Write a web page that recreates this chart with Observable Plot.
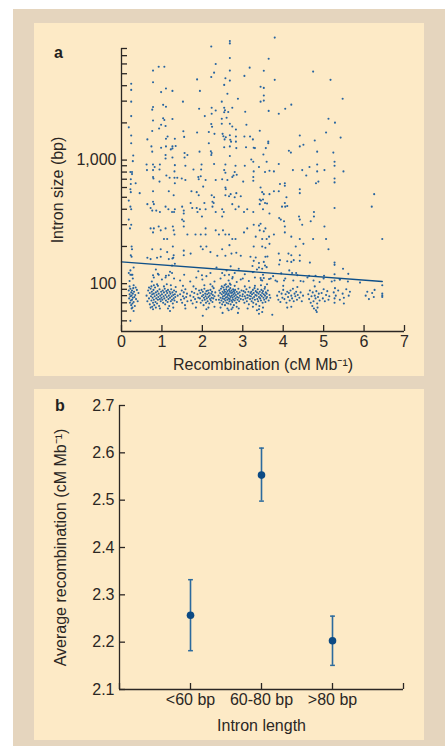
<!DOCTYPE html>
<html><head><meta charset="utf-8">
<script src="https://cdn.jsdelivr.net/npm/d3@7"></script>
<script src="https://cdn.jsdelivr.net/npm/@observablehq/plot@0.6"></script>
<style>
body{margin:0;background:#fff;font-family:"Liberation Sans",Arial,Helvetica,sans-serif;}
#page{position:relative;width:445px;height:746px;overflow:hidden;background:#fff;}
#outer{position:absolute;left:13px;top:9px;width:432px;height:737px;background:#e5d5be;}
.panel{position:absolute;left:34px;width:390px;background:#fdeac6;}
#pa{top:23px;height:353px}
#pb{top:389px;height:351px}
.panel svg{position:absolute;left:0;top:0;}
.tag{position:absolute;font-weight:bold;font-size:16px;line-height:1;color:#231f20;z-index:2}
</style></head><body>
<div id="page"><div id="outer"></div>
<div class="panel" id="pa"><div class="tag" style="left:20px;top:22px">a</div></div>
<div class="panel" id="pb"><div class="tag" style="left:21px;top:9px">b</div></div>
</div>
<script>
// ---------- Panel a: intron size vs recombination ----------
const xTicksA = [0, 1, 2, 3, 4, 5, 6, 7];
const yTicksA = [50, 60, 70, 80, 90, 100, 200, 300, 400, 500, 600, 700, 800, 900,
  1000, 2000, 3000, 4000, 5000, 6000, 7000, 8000];
const yLabelledA = [100, 1000];

// [recombination (cM/Mb), intron size (bp)]
const longIntrons = [[2.68,9200],[2.68,8800],[2.22,8300],[3.79,9800],[2.68,6700],[0.92,5700],[1.06,5700],[0.78,5300],[2.33,6000],[2.68,5300],[2.29,5100],[2.22,4700],[2.57,4600],[3.04,4800],[1.87,4500],[2.68,4400],[0.24,4150],[0.78,4270],[2.54,4060],[1.10,3800],[0.24,3700],[0.98,3550],[1.26,3630],[1.94,3630],[2.62,3440],[2.88,3140],[0.24,2970],[1.52,2970],[2.48,2970],[1.03,2800],[1.10,2700],[0.78,2690],[0.76,2560],[1.92,2600],[2.23,2650],[2.33,2520],[2.54,2650],[2.56,2530],[2.64,2450],[2.54,2440],[2.74,2650],[3.06,2460],[2.23,2370],[0.24,2270],[2.06,2270],[1.03,2180],[1.06,2110],[1.26,2150],[2.48,2160],[2.60,2200],[0.78,2090],[0.18,1840],[0.98,1930],[1.09,1890],[0.93,1800],[2.22,1960],[2.24,1860],[2.48,1970],[2.68,1970],[2.74,1870],[2.83,1770],[3.09,1930],[0.76,1720],[1.53,1710],[1.87,1670],[2.16,1690],[2.30,1630],[2.50,1630],[2.52,1560],[2.58,1530],[2.55,1470],[2.68,1590],[2.69,1460],[2.71,1410],[2.83,1550],[2.83,1410],[3.04,1550],[0.24,1580],[0.64,1470],[1.14,1550],[1.32,1490],[1.55,1540],[1.10,1490],[2.16,1370],[0.24,1370],[0.74,1290],[1.10,1290],[1.26,1290],[1.34,1300],[1.26,1240],[1.22,1220],[0.98,1260],[0.76,1170],[1.93,1170],[2.21,1180],[2.23,1140],[2.54,1270],[2.68,1290],[2.84,1250],[3.08,1270],[1.56,1140],[1.63,1100],[1.09,1100],[1.09,1030],[1.26,1050],[1.56,1050],[2.22,1100],[2.68,1080],[0.29,1090],
[3.64,6600],[3.52,5280],[4.74,5200],[3.79,4460],[5.17,4460],[3.44,3920],[3.52,3840],[3.52,3330],[3.44,2970],[3.52,3030],[5.47,3140],[4.20,2810],[3.64,2500],[4.05,2600],[3.89,2370],[5.12,2160],[5.28,2010],[3.42,1730],[5.06,1670],[4.41,1580],[5.42,1520],[3.25,1470],[3.63,1410],[3.63,1370],[4.78,1440],[4.50,1330],[4.41,1290],[3.30,1250],[3.57,1250],[4.14,1190],[4.19,1150],[4.84,1170],[5.24,1150],[3.51,1110],[3.17,5600],[3.18,1550],[3.27,1260],[3.21,1010]];

const midIntrons = [[0.28,980],[0.62,920],[0.78,920],[0.82,880],[0.95,920],[1.32,910],[0.63,830],[0.78,830],[0.94,840],[1.31,810],[0.22,800],[0.26,800],[0.26,770],[1.58,900],[1.78,840],[1.98,920],[1.97,840],[2.29,930],[2.57,920],[2.54,830],[2.57,790],[2.82,900],[3.05,900],[2.80,800],[2.85,760],[2.77,750],[2.74,730],[0.78,730],[0.79,710],[1.11,750],[1.19,720],[1.31,720],[1.38,720],[0.35,650],[0.23,700],[0.23,640],[0.94,670],[1.32,650],[1.49,710],[1.58,690],[1.90,730],[1.91,700],[2.08,690],[2.33,690],[2.49,700],[2.62,690],[2.57,600],[2.58,580],[3.01,670],[0.22,580],[0.23,550],[0.45,540],[0.78,560],[1.17,560],[1.29,520],[1.73,560],[1.86,550],[1.91,520],[2.23,520],[2.29,500],[2.25,460],[2.28,450],[2.57,520],[2.66,510],[2.70,530],[2.80,500],[2.84,540],[2.95,510],[0.18,470],[0.22,420],[0.24,400],[0.64,440],[0.72,410],[0.78,460],[0.80,440],[0.76,390],[0.86,390],[0.95,380],[1.09,420],[1.16,400],[1.25,380],[1.30,380],[1.32,400],[1.50,420],[1.54,390],[1.54,370],[1.50,330],[1.54,320],[1.71,450],[1.75,410],[1.86,410],[1.88,380],[2.08,400],[2.25,420],[2.33,380],[2.49,400],[2.53,380],[2.49,350],[2.74,440],[2.82,400],[2.90,420],[3.03,380],[3.11,400],[0.18,330],[0.24,300],[0.21,280],[0.72,280],[0.80,280],[0.78,260],[0.92,290],[0.97,270],[1.09,280],[1.13,230],[1.05,230],[1.27,290],[1.29,270],[1.31,250],[1.54,290],[1.63,250],[1.83,250],[1.96,250],[2.08,250],[2.08,280],[2.33,270],[2.41,250],[2.51,270],[2.57,250],[2.66,250],[2.74,230],[2.82,230],[3.03,260],[3.11,280],[0.25,200],[0.26,190],[0.23,170],[0.25,165],[0.76,190],[0.97,190],[1.13,180],[1.27,200],[1.29,170],[1.54,185],[1.54,170],[1.71,175],[1.96,200],[2.01,190],[2.10,200],[2.20,180],[2.37,168],[2.49,190],[2.57,168],[2.67,205],[2.72,175],[2.84,178],[2.95,168],[0.64,162],[0.72,158],[0.88,162],[0.97,165],[1.17,158],[1.26,160],[1.28,162],[0.18,122],[0.22,118],[0.27,118],[0.78,117],[0.92,118],[1.09,112],[1.17,117],[1.25,122],[1.99,117],[2.49,122],[2.66,118],[2.74,110],[2.95,108],[1.94,400],[1.96,740],[2.02,610],[2.05,450],[1.99,350],
[3.26,970],[3.40,880],[3.59,970],[3.89,930],[3.27,810],[3.55,800],[3.66,820],[3.77,810],[4.24,830],[4.47,830],[4.65,880],[4.84,920],[4.84,810],[5.02,830],[5.27,970],[5.27,900],[5.49,810],[4.57,750],[3.26,730],[3.26,680],[3.92,640],[4.04,650],[4.04,620],[4.81,650],[4.87,670],[5.27,710],[5.27,660],[3.44,600],[3.48,550],[3.52,530],[3.66,530],[3.77,560],[3.89,560],[4.08,500],[4.41,580],[4.41,540],[6.25,530],[3.42,480],[3.45,470],[3.50,480],[3.42,440],[3.55,450],[3.60,445],[4.04,450],[4.05,420],[4.10,425],[3.97,420],[3.26,380],[3.50,400],[3.66,370],[4.76,380],[4.76,350],[4.39,350],[4.41,330],[4.68,320],[5.27,410],[6.19,420],[3.90,340],[3.94,330],[4.02,320],[3.27,300],[3.40,295],[3.44,305],[3.42,270],[3.56,280],[3.52,265],[4.04,290],[4.04,260],[4.47,300],[5.02,290],[3.32,240],[3.48,230],[3.59,230],[3.65,240],[3.77,250],[4.20,240],[4.41,230],[4.74,230],[5.06,230],[4.31,200],[4.50,210],[6.45,230],[3.27,200],[3.48,200],[3.66,210],[3.56,195],[5.12,190],[3.89,175],[4.13,175],[4.20,170],[4.41,170],[3.19,165],[3.32,163],[3.56,165],[3.61,166],[3.92,155],[4.10,152],[4.20,150],[4.26,155],[4.41,153],[3.27,153],[3.40,147],[3.52,150],[4.66,148],[5.27,148],[5.27,142],[3.90,143],[5.48,132],[5.61,120],[3.40,135],[3.48,132],[3.59,136],[3.24,139],[4.22,122],[4.32,122],[4.64,116],[4.80,116],[5.01,116],[5.27,119],[5.27,106],[5.40,108],[3.44,111],[3.52,111],[3.48,106],[3.69,110],[3.81,106],[4.02,106],[4.43,105],
[0.2,105],[0.25,118],[0.28,110],[0.22,128],[0.3,135],[0.75,104],[0.8,112],[0.9,120],[0.85,130],[1.0,108],[1.1,116],[1.2,125],[1.25,140],[1.3,110],[1.32,145],[1.45,106],[1.55,118],[1.7,104],[1.85,112],[1.9,126],[2.0,108],[2.1,115],[2.2,122],[2.3,104],[2.35,135],[2.45,110],[2.55,117],[2.6,128],[2.65,106],[2.7,138],[2.75,113],[2.8,122],[2.85,103],[2.9,132],[3.0,110],[3.05,119],[3.15,105],[3.25,124],[3.3,112],[3.35,130],[3.45,107],[3.5,118],[3.55,140],[3.65,109],[3.75,115],[3.85,104],[3.95,121],[4.05,110],[4.15,128],[4.25,106],[4.35,117],[4.5,104],[4.6,112],[4.75,106],[4.9,103],[5.0,110],[5.2,104],[5.4,108],[5.6,104],[5.9,102]];

const shortIntrons = [[0.18,88],[0.19,76],[0.2,82],[0.21,70],[0.22,91],[0.22,79],[0.23,73],[0.24,85],[0.24,67],[0.25,80],[0.26,88],[0.26,74],[0.27,69],[0.28,83],[0.28,77],[0.29,92],[0.3,71],[0.31,86],[0.32,78],[0.33,66],[0.34,81],[0.36,75],[0.38,89],[0.4,72],[0.42,84],[0.2,95],[0.25,63],[0.3,97],[0.35,93],[0.27,64],
[0.62,80],[0.64,72],[0.66,88],[0.68,76],[0.7,84],[0.7,68],[0.72,91],[0.73,79],[0.74,73],[0.75,86],[0.76,65],[0.76,82],[0.77,77],[0.78,70],[0.79,89],[0.8,74],[0.8,83],[0.81,67],[0.82,79],[0.83,93],[0.84,71],[0.85,85],[0.86,76],[0.87,81],[0.88,69],[0.89,87],[0.9,74],[0.91,78],[0.92,83],[0.93,66],[0.94,90],[0.95,75],[0.96,80],[0.97,72],[0.98,86],[0.99,77],[0.74,95],[0.78,62],[0.85,64],[0.9,96],[0.95,63],[0.68,93],[0.72,64],[0.88,99],[0.8,97],
[1.0,82],[1.01,74],[1.02,88],[1.03,70],[1.04,79],[1.05,85],[1.06,76],[1.07,91],[1.08,68],[1.09,81],[1.1,73],[1.11,87],[1.12,78],[1.13,84],[1.14,71],[1.15,89],[1.16,75],[1.17,80],[1.18,66],[1.19,86],[1.2,77],[1.21,83],[1.22,72],[1.23,90],[1.24,79],[1.25,74],[1.26,85],[1.27,69],[1.28,81],[1.29,76],[1.3,88],[1.31,73],[1.32,82],[1.33,78],[1.35,86],[1.37,71],[1.39,80],[1.05,95],[1.15,63],[1.22,97],[1.28,64],[1.12,99],[1.34,94],
[1.45,82],[1.47,74],[1.49,88],[1.5,70],[1.52,79],[1.54,85],[1.55,76],[1.57,67],[1.58,90],[1.6,78],[1.62,83],[1.63,72],[1.52,96],[1.58,63],
[1.7,80],[1.72,73],[1.74,86],[1.76,69],[1.78,78],[1.8,84],[1.82,75],[1.84,91],[1.86,71],[1.88,82],[1.9,77],[1.92,88],[1.78,95],[1.84,64],
[1.94,76],[1.95,84],[1.96,70],[1.98,89],[1.99,79],[2.0,73],[2.01,86],[2.02,81],[2.03,67],[2.04,77],[2.05,91],[2.06,74],[2.07,83],[2.08,79],[2.09,70],[2.1,87],[2.11,76],[2.12,82],[2.13,72],[2.14,88],[2.15,78],[2.16,84],[2.17,69],[2.18,80],[2.19,75],[2.2,89],[2.21,73],[2.22,83],[2.23,77],[2.24,86],[2.25,71],[2.26,81],[2.27,76],[2.28,92],[2.3,79],[2.32,85],[2.34,74],[2.05,97],[2.15,64],[2.25,95],[2.1,62],[2.3,65],[2.2,99],
[2.4,80],[2.41,74],[2.42,88],[2.43,70],[2.44,84],[2.45,77],[2.46,91],[2.47,73],[2.48,82],[2.49,68],[2.5,86],[2.5,76],[2.51,79],[2.52,93],[2.52,71],[2.53,84],[2.54,75],[2.54,89],[2.55,80],[2.56,67],[2.56,86],[2.57,73],[2.58,82],[2.58,77],[2.59,90],[2.6,70],[2.6,84],[2.61,78],[2.62,87],[2.62,74],[2.63,81],[2.64,95],[2.64,69],[2.65,83],[2.65,76],[2.66,89],[2.67,72],[2.67,80],[2.68,86],[2.68,75],[2.69,92],[2.7,78],[2.7,68],[2.71,84],[2.72,73],[2.72,88],[2.73,80],[2.74,71],[2.74,85],[2.75,77],[2.76,90],[2.76,74],[2.77,82],[2.78,67],[2.78,87],[2.79,79],[2.8,73],[2.8,84],[2.81,89],[2.82,76],[2.83,81],[2.84,70],[2.85,86],[2.86,78],[2.87,74],[2.88,83],[2.89,91],[2.9,77],[2.91,72],[2.92,85],[2.93,80],[2.95,75],[2.97,88],[2.99,79],[2.55,97],[2.62,63],[2.7,98],[2.75,64],[2.8,96],[2.65,61],[2.58,99],[2.85,65],[2.48,95],[2.9,63],[2.68,100],[2.6,94],[2.72,62],[2.45,64],
[3.0,82],[3.01,74],[3.02,87],[3.04,70],[3.05,79],[3.06,85],[3.07,76],[3.09,90],[3.1,72],[3.11,81],[3.12,77],[3.14,86],[3.15,68],[3.16,80],[3.18,75],[3.19,84],[3.05,95],[3.12,63],[3.17,93],
[3.2,79],[3.21,86],[3.22,72],[3.23,82],[3.24,76],[3.25,89],[3.26,70],[3.27,84],[3.28,78],[3.29,92],[3.3,74],[3.31,81],[3.32,87],[3.33,68],[3.34,80],[3.35,85],[3.36,75],[3.37,90],[3.38,72],[3.39,83],[3.4,78],[3.41,66],[3.42,86],[3.43,76],[3.44,81],[3.45,73],[3.46,89],[3.47,79],[3.48,84],[3.49,70],[3.5,87],[3.51,77],[3.52,82],[3.53,74],[3.54,91],[3.55,80],[3.56,71],[3.57,85],[3.58,76],[3.59,83],[3.6,78],[3.62,88],[3.64,73],[3.66,81],[3.68,77],[3.3,96],[3.4,62],[3.45,97],[3.5,64],[3.35,61],[3.55,94],[3.25,65],[3.6,99],[3.48,59],[3.4,57],[3.73,56],
[3.85,80],[3.88,74],[3.9,86],[3.93,71],[3.96,83],[3.98,77],[4.0,89],[4.03,75],[4.06,82],[4.08,70],[4.1,86],[4.12,78],[4.14,84],[4.16,73],[4.18,88],[4.2,80],[4.22,76],[4.24,91],[4.26,72],[4.28,83],[4.3,79],[4.32,86],[4.34,74],[4.36,81],[4.4,77],[4.43,85],[4.46,72],[4.49,80],[4.0,96],[4.2,65],[4.35,94],[4.1,64],
[4.62,82],[4.64,75],[4.66,88],[4.68,70],[4.7,79],[4.72,66],[4.73,85],[4.75,72],[4.76,63],[4.78,80],[4.8,76],[4.81,61],[4.82,87],[4.84,69],[4.85,64],[4.86,78],[4.88,83],[4.9,73],[4.78,95],[4.83,59],
[4.95,84],[4.98,76],[5.0,90],[5.03,72],[5.06,81],[5.09,87],[5.12,74],[5.14,79],
[5.25,85],[5.27,76],[5.27,70],[5.28,92],[5.3,80],[5.36,88],[5.4,74],[5.47,83],[5.5,77],[5.5,69],[5.56,90],[5.62,80],[5.65,86],
[6.04,80],[6.08,86],[6.12,75],[6.2,84],[6.24,78],[6.26,89],[6.45,97],[6.45,80],[6.45,78],[6.45,83],
[0.22,50],[2.01,55],[2.88,58],[0.3,60],[1.2,60],[2.5,58]];

// fitted regression line (end points)
const trendRec = [0, 6.45];
const trendSize = [150, 104];

// ---------- Panel b: average recombination by intron length ----------
const lengthClasses = ["<60 bp", "60-80 bp", ">80 bp"];
const meanRec = [2.257, 2.553, 2.203];
const ciLow = [2.182, 2.498, 2.151];
const ciHigh = [2.332, 2.610, 2.255];
const yTicksB = [2.1, 2.2, 2.3, 2.4, 2.5, 2.6, 2.7];

// ---------- drawing ----------
const ink = "#2b2724";
const font = '"Liberation Sans", Arial, Helvetica, sans-serif';
const styleBase = {background: "transparent", fontFamily: font, fontSize: "16px", color: ink, overflow: "visible"};
const px = d => d[0], py = d => d[1];
const allIntrons = [...longIntrons, ...midIntrons, ...shortIntrons];
const trend = trendRec.map((r, i) => ({r, s: trendSize[i]}));
const axisText = {fontSize: 16, fill: ink};

const plotA = Plot.plot({
  width: 390, height: 353,
  marginLeft: 87, marginRight: 20, marginTop: 25, marginBottom: 45,
  style: styleBase,
  x: {domain: [0, 7]},
  y: {type: "log", domain: [41, 8000]},
  marks: [
    Plot.dot(allIntrons, {x: px, y: py, r: 1.05, fill: "#2664a0", stroke: null}),
    Plot.line(trend, {x: "r", y: "s", stroke: "#0f5089", strokeWidth: 1.4}),
    Plot.ruleX([0], {stroke: ink, strokeWidth: 1.3}),
    Plot.ruleY([41], {stroke: ink, strokeWidth: 1.3}),
    Plot.axisX({ticks: xTicksA, tickSize: -6, tickPadding: 10, stroke: ink, strokeWidth: 1.3, ...axisText,
      tickFormat: d => String(d),
      label: "Recombination (cM Mb⁻¹)", labelAnchor: "center", labelArrow: "none", labelOffset: 38}),
    Plot.axisY({ticks: yTicksA, tickSize: -6, tickPadding: 11, stroke: ink, strokeWidth: 1.3, ...axisText,
      tickFormat: d => yLabelledA.includes(d) ? d3.format(",")(d) : "",
      label: "Intron size (bp)", labelAnchor: "center", labelArrow: "none", labelOffset: 70})
  ]
});
document.getElementById("pa").appendChild(plotA);

const xDomainB = ["", ...lengthClasses, " "];
const classes = lengthClasses.map((c, i) => ({c, m: meanRec[i], lo: ciLow[i], hi: ciHigh[i]}));
const capSymbol = {draw(ctx, size) { const w = Math.sqrt(size / Math.PI); ctx.moveTo(-w, 0); ctx.lineTo(w, 0); }};

const plotB = Plot.plot({
  width: 390, height: 351,
  marginLeft: 85, marginRight: 21, marginTop: 16, marginBottom: 51,
  style: styleBase,
  x: {type: "point", domain: xDomainB, padding: 0},
  y: {domain: [2.1, 2.7]},
  marks: [
    Plot.ruleX([xDomainB[0]], {stroke: ink, strokeWidth: 1.3}),
    Plot.ruleY([2.1], {stroke: ink, strokeWidth: 1.3}),
    Plot.axisX({tickSize: -6, tickPadding: 10, stroke: ink, strokeWidth: 1.3, ...axisText, tickFormat: d => d.trim(),
      label: "Intron length", labelAnchor: "center", labelArrow: "none", labelOffset: 41}),
    Plot.axisY({ticks: yTicksB, tickSize: -6, tickPadding: 11, stroke: ink, strokeWidth: 1.3, ...axisText,
      tickFormat: d3.format(".1f"),
      label: "Average recombination (cM Mb⁻¹)", labelAnchor: "center", labelArrow: "none", labelOffset: 65}),
    Plot.ruleX(classes, {x: "c", y1: "lo", y2: "hi", stroke: "#2b6a9d", strokeWidth: 1.6}),
    Plot.dot(classes, {x: "c", y: "lo", symbol: capSymbol, r: 2.4, stroke: "#2b6a9d", strokeWidth: 1.5, fill: "none"}),
    Plot.dot(classes, {x: "c", y: "hi", symbol: capSymbol, r: 2.4, stroke: "#2b6a9d", strokeWidth: 1.5, fill: "none"}),
    Plot.dot(classes, {x: "c", y: "m", r: 3.8, fill: "#0c4a84", stroke: null})
  ]
});
document.getElementById("pb").appendChild(plotB);
</script>
</body></html>
